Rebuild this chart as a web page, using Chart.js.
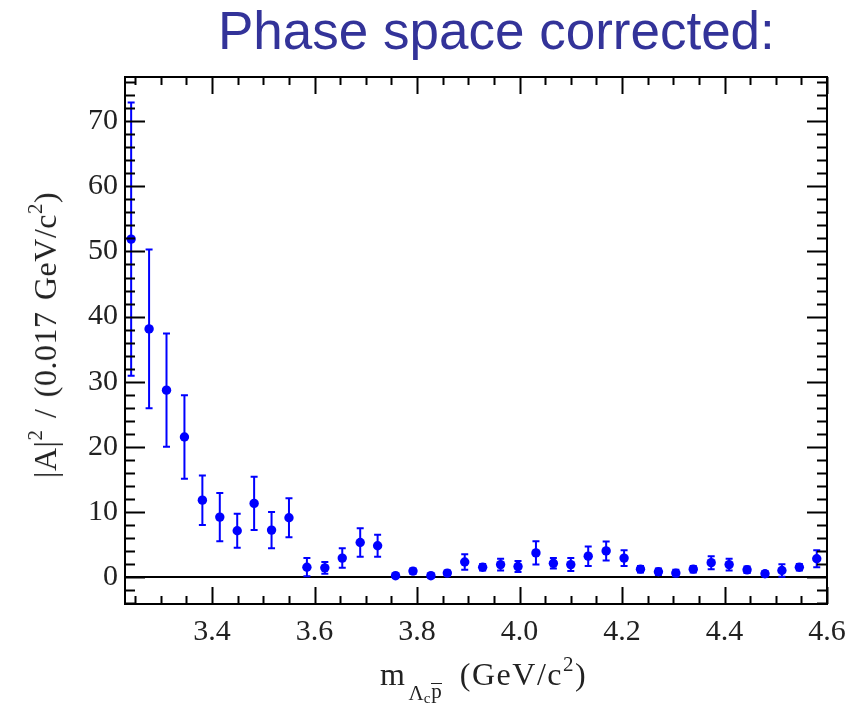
<!DOCTYPE html>
<html>
<head>
<meta charset="utf-8">
<script src="https://cdn.jsdelivr.net/npm/chart.js@4.4.1/dist/chart.umd.min.js"></script>
<style>
  body { margin: 0; background: #fff; }
  #wrap { position: relative; width: 861px; height: 703px; }
  #heading {
    position: absolute; left: 218px; top: 4px;
    font: 53px "Liberation Sans", Arial, sans-serif; line-height: 1;
    color: #333399; white-space: nowrap;
  }
  #xtitle {
    position: absolute; left: 380px; top: 658px;
    font: 32px "Liberation Serif", "Times New Roman", serif; line-height: 1;
    color: #222; white-space: nowrap; letter-spacing: 1.5px;
  }
  #xtitle .sub { font-size: 21px; position: relative; top: 15px; margin-left: 2px; margin-right: 18px; letter-spacing: 0; }
  #xtitle .sub2 { font-size: 15px; position: relative; top: 3px; margin-right: 1px; }
  #xtitle .bar { display: inline-block; line-height: 0.75; border-top: 1.5px solid #222; position: relative; top: -2px; }
  #xtitle sup, #ytitle sup { font-size: 21px; vertical-align: 0; position: relative; top: -14px; }
  #ytitle {
    position: absolute; left: 45px; top: 335px;
    transform: translate(-50%, -50%) rotate(-90deg);
    font: 32px "Liberation Serif", "Times New Roman", serif; line-height: 1;
    color: #222; white-space: nowrap; letter-spacing: 0.5px; word-spacing: 3px;
  }
</style>
</head>
<body>
<div id="wrap">
  <canvas id="myChart" width="861" height="703"></canvas>
  <div id="heading">Phase space corrected:</div>
  <div id="ytitle">|A|<sup>2</sup> / (0.017 GeV/c<sup>2</sup>)</div>
  <div id="xtitle">m<span class="sub">Λ<span class="sub2">c</span><span class="bar">p</span></span>(GeV/c<sup>2</sup>)</div>
</div>
<script>
// bin centres in GeV/c^2
const MASS = [3.242, 3.277, 3.311, 3.346, 3.381, 3.415, 3.449, 3.482, 3.516, 3.550,
              3.585, 3.620, 3.654, 3.689, 3.723, 3.758, 3.792, 3.827, 3.859, 3.893,
              3.928, 3.963, 3.997, 4.032, 4.066, 4.100, 4.134, 4.169, 4.204, 4.236,
              4.271, 4.305, 4.339, 4.374, 4.409, 4.444, 4.479, 4.512, 4.546, 4.580];
// |A|^2 per bin
const AMP2 = [51.9, 38.1, 28.7, 21.5, 11.8, 9.2, 7.1, 11.3, 7.2, 9.1,
              1.5, 1.4, 2.9, 5.3, 4.8, 0.2, 0.9, 0.2, 0.6, 2.3,
              1.5, 1.9, 1.6, 3.7, 2.1, 1.9, 3.2, 4.0, 2.9, 1.2,
              0.8, 0.6, 1.2, 2.2, 1.9, 1.1, 0.5, 1.0, 1.5, 2.8];
// errors
const ERR = [21.0, 12.2, 8.7, 6.4, 3.8, 3.7, 2.6, 4.1, 2.8, 3.0,
             1.4, 0.9, 1.5, 2.2, 1.7, 0.3, 0.4, 0.3, 0.4, 1.2,
             0.5, 0.9, 0.85, 1.8, 0.8, 1.0, 1.5, 1.45, 1.2, 0.5,
             0.5, 0.5, 0.5, 1.0, 0.9, 0.5, 0.4, 0.95, 0.5, 1.3];

const X_TICKS = [3.4, 3.6, 3.8, 4.0, 4.2, 4.4, 4.6];
const Y_TICKS = [0, 10, 20, 30, 40, 50, 60, 70];

const BLUE = 'rgb(0,0,255)';
const serif = '"Liberation Serif", "Times New Roman", serif';

// error bars + zero line, drawn under the markers
const errorBars = {
  id: 'errorBars',
  beforeDatasetsDraw(chart) {
    const {ctx, chartArea, scales: {x, y}} = chart;
    ctx.save();
    // zero line
    ctx.strokeStyle = '#000';
    ctx.lineWidth = 2;
    ctx.beginPath();
    ctx.moveTo(chartArea.left, y.getPixelForValue(0));
    ctx.lineTo(chartArea.right, y.getPixelForValue(0));
    ctx.stroke();

    ctx.strokeStyle = BLUE;
    ctx.lineWidth = 2;
    MASS.forEach((m, i) => {
      const px = x.getPixelForValue(m);
      const top = y.getPixelForValue(AMP2[i] + ERR[i]);
      const bot = y.getPixelForValue(AMP2[i] - ERR[i]);
      ctx.beginPath();
      ctx.moveTo(px, top); ctx.lineTo(px, bot);
      ctx.moveTo(px - 3.5, top); ctx.lineTo(px + 3.5, top);
      ctx.moveTo(px - 3.5, bot); ctx.lineTo(px + 3.5, bot);
      ctx.stroke();
    });
    ctx.restore();
  }
};

// ROOT style frame with inward ticks on all sides
const frame = {
  id: 'frame',
  afterDraw(chart) {
    const {ctx, chartArea: a, scales: {x, y}} = chart;
    ctx.save();
    ctx.strokeStyle = '#000';
    ctx.lineWidth = 2;
    ctx.strokeRect(a.left, a.top, a.right - a.left, a.bottom - a.top);
    ctx.beginPath();
    for (let k = 65; k <= 92; k++) {
      const v = k * 0.05;
      if (v < x.min || v > x.max + 1e-9) continue;
      const px = Math.round(x.getPixelForValue(v)) + 0.5;
      const len = (k % 4 === 0) ? 17 : 8;
      ctx.moveTo(px, a.bottom); ctx.lineTo(px, a.bottom - len);
      ctx.moveTo(px, a.top); ctx.lineTo(px, a.top + len);
    }
    for (let v = -4; v <= 76; v += 2) {
      const py = Math.round(y.getPixelForValue(v)) + 0.5;
      const len = (v % 10 === 0) ? 20 : 10;
      ctx.moveTo(a.left, py); ctx.lineTo(a.left + len, py);
      ctx.moveTo(a.right, py); ctx.lineTo(a.right - len, py);
    }
    ctx.stroke();
    ctx.restore();
  }
};

const ctx = document.getElementById('myChart');

new Chart(ctx, {
  type: 'scatter',
  data: {
    datasets: [{
      data: MASS.map((m, i) => ({x: m, y: AMP2[i]})),
      backgroundColor: BLUE,
      borderWidth: 0,
      pointRadius: 4.7,
      pointHoverRadius: 4.7
    }]
  },
  options: {
    responsive: false,
    animation: false,
    events: [],
    layout: { padding: { top: 77, right: 34, left: 0, bottom: 0 } },
    plugins: { legend: { display: false }, tooltip: { enabled: false } },
    scales: {
      x: {
        type: 'linear',
        min: 3.23,
        max: 4.6,
        afterBuildTicks: s => { s.ticks = X_TICKS.map(v => ({value: v})); },
        afterFit: s => { s.height = 99; },
        grid: { display: false, drawTicks: false },
        border: { display: false },
        ticks: {
          font: { family: serif, size: 30 },
          color: '#222',
          padding: 10,
          maxRotation: 0,
          autoSkip: false,
          callback: v => v.toFixed(1)
        }
      },
      y: {
        min: -4.15,
        max: 76.8,
        afterBuildTicks: s => { s.ticks = Y_TICKS.map(v => ({value: v})); },
        afterFit: s => { s.width = 125; },
        grid: { display: false, drawTicks: false },
        border: { display: false },
        ticks: {
          font: { family: serif, size: 30 },
          color: '#222',
          padding: 7
        }
      }
    }
  },
  plugins: [errorBars, frame]
});
</script>
</body>
</html>
